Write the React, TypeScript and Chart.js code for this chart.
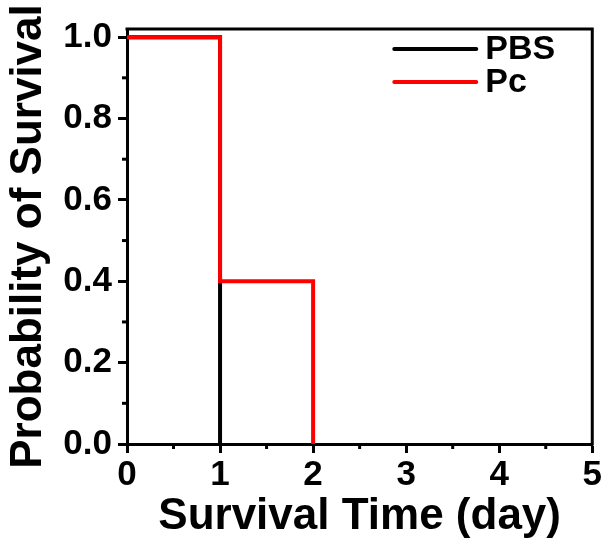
import React, { useEffect, useRef } from "react";
import { Chart, registerables } from "chart.js";

Chart.register(...registerables);

const seriesNames = ["PBS", "Pc"];
const seriesColors = ["#000000", "#ff0000"];
const pbsTimes = [0, 1];
const pbsSurvival = [1, 0];
const pcTimes = [0, 1, 2];
const pcSurvival = [1, 0.4, 0];
const xTicks = [0, 1, 2, 3, 4, 5];
const yTicks = [0, 0.2, 0.4, 0.6, 0.8, 1.0];
const xTitle = "Survival Time (day)";
const yTitle = "Probability of Survival";

const FONT = "'Liberation Sans', Arial, sans-serif";

const framePlugin = {
  id: "frameAndMinor",
  afterDraw(chart: any) {
    const { ctx, chartArea } = chart;
    const xs = chart.scales.x;
    const ys = chart.scales.y;
    ctx.save();
    ctx.strokeStyle = "#000";
    ctx.lineWidth = 3;
    ctx.lineCap = "square";
    ctx.beginPath();
    ctx.moveTo(chartArea.left, chartArea.top);
    ctx.lineTo(chartArea.right, chartArea.top);
    ctx.lineTo(chartArea.right, chartArea.bottom);
    ctx.stroke();
    ctx.lineCap = "butt";
    // minor ticks
    for (let i = 0; i < xTicks.length - 1; i++) {
      const v = (xTicks[i] + xTicks[i + 1]) / 2;
      const px = xs.getPixelForValue(v);
      ctx.beginPath();
      ctx.moveTo(px, chartArea.bottom);
      ctx.lineTo(px, chartArea.bottom + 5);
      ctx.stroke();
    }
    for (let i = 0; i < yTicks.length - 1; i++) {
      const v = (yTicks[i] + yTicks[i + 1]) / 2;
      const py = ys.getPixelForValue(v);
      ctx.beginPath();
      ctx.moveTo(chartArea.left, py);
      ctx.lineTo(chartArea.left - 5, py);
      ctx.stroke();
    }
    // legend
    const rows = [chartArea.top + 20, chartArea.top + 53];
    ctx.font = `bold 34px ${FONT}`;
    ctx.textBaseline = "middle";
    ctx.textAlign = "left";
    seriesNames.forEach((name, i) => {
      const y = rows[i];
      ctx.strokeStyle = seriesColors[i];
      ctx.lineWidth = 4;
      ctx.lineCap = "round";
      ctx.beginPath();
      ctx.moveTo(chartArea.right - 198, y);
      ctx.lineTo(chartArea.right - 116, y);
      ctx.stroke();
      ctx.fillStyle = "#000";
      ctx.fillText(name, chartArea.right - 107, y + 1);
    });
    ctx.restore();
  },
};

export default function App() {
  const ref = useRef<HTMLCanvasElement>(null);
  useEffect(() => {
    if (!ref.current) return;
    const chart = new Chart(ref.current, {
      type: "scatter",
      data: {
        datasets: [
          {
            label: seriesNames[0],
            data: pbsTimes.map((t, i) => ({ x: t, y: pbsSurvival[i] })),
            borderColor: seriesColors[0],
            backgroundColor: seriesColors[0],
            showLine: true,
            stepped: true,
            borderWidth: 4,
            pointRadius: 0,
            order: 2,
          },
          {
            label: seriesNames[1],
            data: pcTimes.map((t, i) => ({ x: t, y: pcSurvival[i] })),
            borderColor: seriesColors[1],
            backgroundColor: seriesColors[1],
            showLine: true,
            stepped: true,
            borderWidth: 4,
            pointRadius: 0,
            order: 1,
          },
        ],
      },
      options: {
        responsive: false,
        animation: false,
        layout: { padding: { top: 29, right: 10, left: 0, bottom: 0 } },
        plugins: { legend: { display: false }, tooltip: { enabled: false } },
        scales: {
          x: {
            type: "linear",
            min: xTicks[0],
            max: xTicks[xTicks.length - 1],
            afterFit: (s: any) => {
              s.height = 94;
            },
            afterBuildTicks: (s: any) => {
              s.ticks = xTicks.map((v) => ({ value: v }));
            },
            ticks: {
              color: "#000",
              font: { family: FONT, size: 35, weight: "bold" },
              padding: 1,
              maxRotation: 0,
              callback: (v: any) => String(v),
            },
            grid: {
              drawOnChartArea: false,
              tickLength: 9,
              tickWidth: 3,
              tickColor: "#000",
            },
            border: { color: "#000", width: 3 },
            title: {
              display: true,
              text: xTitle,
              color: "#000",
              font: { family: FONT, size: 44, weight: "bold" },
              padding: { top: 0, bottom: -5 },
            },
          },
          y: {
            type: "linear",
            min: 0,
            max: 1.02,
            afterFit: (s: any) => {
              s.width = 127;
            },
            afterBuildTicks: (s: any) => {
              s.ticks = yTicks.map((v) => ({ value: v }));
            },
            ticks: {
              color: "#000",
              font: { family: FONT, size: 35, weight: "bold" },
              padding: 6,
              callback: (v: any) => Number(v).toFixed(1),
            },
            grid: {
              drawOnChartArea: false,
              tickLength: 9,
              tickWidth: 3,
              tickColor: "#000",
            },
            border: { color: "#000", width: 3 },
            title: {
              display: true,
              text: yTitle,
              color: "#000",
              font: { family: FONT, size: 44, weight: "bold" },
              padding: { top: 2, bottom: 0 },
            },
          },
        },
      },
      plugins: [framePlugin],
    } as any);
    return () => chart.destroy();
  }, []);
  return (
    <canvas
      ref={ref}
      width={603}
      height={538}
      style={{ position: "absolute", left: 0, top: 0, display: "block", background: "#fff" }}
    />
  );
}
